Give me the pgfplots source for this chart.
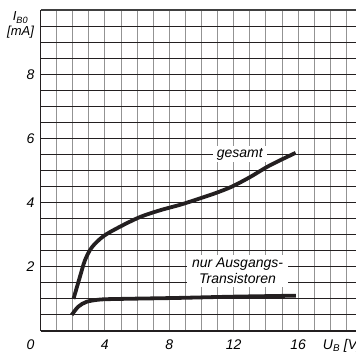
\documentclass[border=0pt]{standalone}
\usepackage{pgfplots}
\pgfplotsset{compat=1.18}
\usepackage{fontspec}
\setmainfont{Liberation Sans}
\definecolor{ink}{HTML}{231F20}
\newcommand{\lblfont}{\fontsize{14bp}{16bp}\selectfont\itshape}
\newcommand{\axlblfont}{\fontsize{13bp}{15bp}\selectfont\itshape}
\begin{document}
\begin{tikzpicture}
\begin{axis}[
  scale only axis,
  width=315.5bp, height=321bp,
  xmin=0, xmax=19.6, ymin=0, ymax=10,
  axis line style={draw=none},
  tick style={draw=none},
  major tick length=0pt,
  xtick={4,8,12,16},
  ytick={2,4,6,8},
  clip=false,
  /pgf/number format/assume math mode=true,
  tick label style={font=\lblfont},
  xticklabel style={anchor=base, yshift=-18bp},
  yticklabel style={anchor=east, inner sep=0pt, xshift=-6bp},
]
% grid
\pgfplotsinvokeforeach{1,...,19}{\draw[color=gray!85, line width=0.9bp] (axis cs:#1,0) -- (axis cs:#1,10);}
\pgfplotsinvokeforeach{0.5,1,...,9.5}{\draw[color=ink, line width=0.9bp] (axis cs:0,#1) -- (axis cs:19.6,#1);}
% borders
\draw[color=ink, line width=1.6bp] (axis cs:0,0) -- (axis cs:0,10);
\draw[color=ink, line width=2bp] (axis cs:0,0) -- (axis cs:19.6,0);
\draw[color=black!75, line width=2bp] (axis cs:0,10) -- (axis cs:19.6,10);
% labels
\node[fill=white, inner xsep=4bp, inner ysep=2bp, font=\lblfont] at (axis cs:12.38,5.5) {gesamt};
\node[fill=white, inner xsep=5bp, inner ysep=3bp, align=center, font=\lblfont] at (axis cs:12.24,1.88) {nur Ausgangs-\\Transistoren};
% curves
\addplot[color=ink, line width=3.8bp, smooth, tension=0.5] coordinates {
(2.05,1.0) (2.45,1.69) (2.76,2.2) (3.18,2.6) (3.9,2.95) (4.94,3.25) (6.18,3.55) (7.42,3.76) (8.66,3.93) (9.66,4.09) (10.9,4.3) (11.9,4.5) (13.0,4.79) (14.25,5.16) (15.85,5.55)
};
\addplot[color=ink, line width=3.8bp, smooth, tension=0.5] coordinates {
(1.94,0.5) (2.35,0.76) (2.87,0.91) (3.7,0.98) (5,1.0) (8.5,1.03) (12,1.07) (15.87,1.1)
};
% axis labels
\node[anchor=base, font=\lblfont, inner sep=0pt] at ([xshift=-10bp,yshift=-18bp]axis cs:0,0) {0};
\node[anchor=base, font=\axlblfont, inner sep=0pt] at ([xshift=-20bp,yshift=-11bp]axis cs:0,10) {I\textsubscript{B0}};
\node[anchor=base, font=\axlblfont, inner sep=0pt] at ([xshift=-20bp,yshift=-25.5bp]axis cs:0,10) {[mA]};
\node[anchor=base west, font=\lblfont, inner sep=0pt] at ([xshift=282.2bp,yshift=-18bp]axis cs:0,0) {U\textsubscript{B} [V]};
\end{axis}
\pgfresetboundingbox
\useasboundingbox (-40.5bp,-25bp) rectangle (315.5bp,331bp);
\end{tikzpicture}
\end{document}
